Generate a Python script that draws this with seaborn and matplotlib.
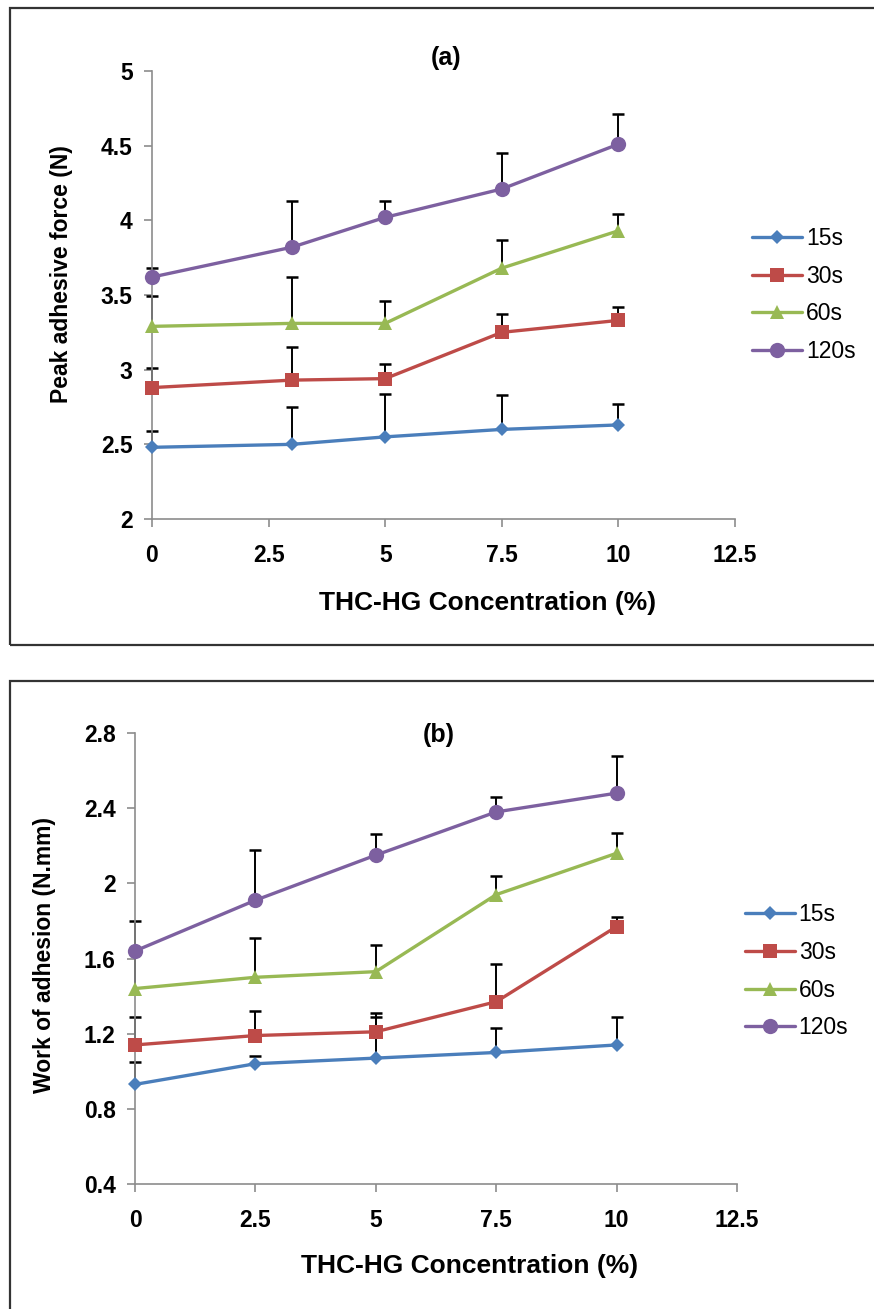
import numpy as np
import pandas as pd
import matplotlib
matplotlib.use("Agg")
import matplotlib.pyplot as plt
import seaborn as sns
from matplotlib.patches import Rectangle
from matplotlib.ticker import FuncFormatter

sns.set_style("ticks")
plt.rcParams["font.family"] = ["Liberation Sans", "DejaVu Sans"]
plt.rcParams["text.color"] = "black"
plt.rcParams["axes.labelcolor"] = "black"


# --------------------------------------------------
# Data
# --------------------------------------------------

times = ["15s", "30s", "60s", "120s"]

conc_a = [0, 3, 5, 7.5, 10]
conc_b = [0, 2.5, 5, 7.5, 10]

# (a) peak adhesive force (N)
force_15 = [2.48, 2.50, 2.55, 2.60, 2.63]
force_30 = [2.88, 2.93, 2.94, 3.25, 3.33]
force_60 = [3.29, 3.31, 3.31, 3.68, 3.93]
force_120 = [3.62, 3.82, 4.02, 4.21, 4.51]

force_err_15 = [0.11, 0.25, 0.29, 0.23, 0.14]
force_err_30 = [0.13, 0.22, 0.10, 0.12, 0.09]
force_err_60 = [0.20, 0.31, 0.15, 0.19, 0.11]
force_err_120 = [0.06, 0.31, 0.11, 0.24, 0.20]

# (b) work of adhesion (N.mm)
work_15 = [0.93, 1.04, 1.07, 1.10, 1.14]
work_30 = [1.14, 1.19, 1.21, 1.37, 1.77]
work_60 = [1.44, 1.50, 1.53, 1.94, 2.16]
work_120 = [1.64, 1.91, 2.15, 2.38, 2.48]

work_err_15 = [0.12, 0.04, 0.22, 0.13, 0.15]
work_err_30 = [0.15, 0.13, 0.10, 0.20, 0.05]
work_err_60 = [0.20, 0.21, 0.14, 0.10, 0.11]
work_err_120 = [0.16, 0.27, 0.11, 0.08, 0.20]


# --------------------------------------------------
# Styles
# --------------------------------------------------

colors = {"15s": "#4A7EBB", "30s": "#BE4B48", "60s": "#98B954", "120s": "#7D60A0"}
markers = {"15s": "D", "30s": "s", "60s": "^", "120s": "o"}
msizes = {"15s": 7, "30s": 10, "60s": 10.5, "120s": 11}

W, H = 874, 1309
fig = plt.figure(figsize=(W / 100, H / 100), dpi=100)


def fig_box(l, t, r, b):
    return [l / W, 1 - b / H, (r - l) / W, (b - t) / H]


def build_frame(conc, series, errors):
    rows = []
    for t, vals, errs in zip(times, series, errors):
        for c, v, e in zip(conc, vals, errs):
            rows.append({"conc": c, "value": v, "err": e, "time": t})
    return pd.DataFrame(rows)


def draw_panel(ax, df, ylim, ystep, title, ylabel, ylab_xy, xlab_xy, title_y, leg_xy):

    # error bars (upper only), behind the lines
    for t in times:
        sub = df[df["time"] == t]
        ax.vlines(sub["conc"], sub["value"], sub["value"] + sub["err"],
                  color="black", lw=1.4, zorder=2, clip_on=False)
        ax.plot(sub["conc"], sub["value"] + sub["err"], ls="none", marker="_",
                ms=9, mew=1.8, color="black", zorder=2, clip_on=False)

    for t in times:
        sub = df[df["time"] == t]
        sns.lineplot(data=sub, x="conc", y="value", color=colors[t],
                     marker=markers[t], markersize=msizes[t],
                     markeredgecolor=colors[t], markeredgewidth=0,
                     linewidth=2.4, label=t, ax=ax, zorder=3, clip_on=False)

    ax.set_xlim(0, 12.5)
    ax.set_ylim(*ylim)
    ax.set_xticks(np.arange(0, 12.51, 2.5))
    ax.set_yticks(np.arange(ylim[0], ylim[1] + 1e-6, ystep))
    fmt = FuncFormatter(lambda v, p: f"{round(v, 2):g}")
    ax.xaxis.set_major_formatter(fmt)
    ax.yaxis.set_major_formatter(fmt)

    for s in ["top", "right"]:
        ax.spines[s].set_visible(False)
    for s in ["left", "bottom"]:
        ax.spines[s].set_color("#8C8C8C")
        ax.spines[s].set_linewidth(1.2)

    ax.tick_params(axis="both", colors="#8C8C8C", length=6, width=1.2,
                   labelcolor="black", labelsize=16.5)
    ax.tick_params(axis="y", pad=8)
    ax.tick_params(axis="x", pad=12)
    for lab in ax.get_xticklabels() + ax.get_yticklabels():
        lab.set_fontweight("bold")

    ax.set_xlabel("THC-HG Concentration (%)", fontsize=19, fontweight="bold")
    ax.set_ylabel(ylabel, fontsize=16.5, fontweight="bold")
    ax.yaxis.set_label_coords(*ylab_xy)
    ax.xaxis.set_label_coords(*xlab_xy)

    ax.text(0.505, title_y, title, transform=ax.transAxes, ha="center",
            va="center", fontsize=18, fontweight="bold")

    ax.legend(loc="center left", bbox_to_anchor=leg_xy, frameon=False,
              fontsize=16.5, handlelength=2.2, handletextpad=0.15,
              labelspacing=0.65, borderpad=0, borderaxespad=0)


# --------------------------------------------------
# Panel frames
# --------------------------------------------------

fig.patches.append(Rectangle((10 / W, 1 - 645 / H), 900 / W, 637 / H,
                             transform=fig.transFigure, fill=False,
                             edgecolor="#333333", lw=1.6))
fig.patches.append(Rectangle((10 / W, 1 - 1340 / H), 900 / W, 659 / H,
                             transform=fig.transFigure, fill=False,
                             edgecolor="#333333", lw=1.6))


# --------------------------------------------------
# Panel (a)
# --------------------------------------------------

ax_a = fig.add_axes(fig_box(152, 71, 735, 519))
df_a = build_frame(conc_a,
                   [force_15, force_30, force_60, force_120],
                   [force_err_15, force_err_30, force_err_60, force_err_120])
draw_panel(ax_a, df_a, (2, 5), 0.5, "(a)", "Peak adhesive force (N)",
           (-0.135, 0.547), (0.576, -0.16), 1.03, (1.029, 0.5))


# --------------------------------------------------
# Panel (b)
# --------------------------------------------------

ax_b = fig.add_axes(fig_box(135, 733, 737, 1184))
df_b = build_frame(conc_b,
                   [work_15, work_30, work_60, work_120],
                   [work_err_15, work_err_30, work_err_60, work_err_120])
draw_panel(ax_b, df_b, (0.4, 2.8), 0.4, "(b)", "Work of adhesion (N.mm)",
           (-0.131, 0.508), (0.556, -0.155), 0.995, (1.013, 0.472))

fig.savefig("out.png", dpi=100, facecolor="white")
